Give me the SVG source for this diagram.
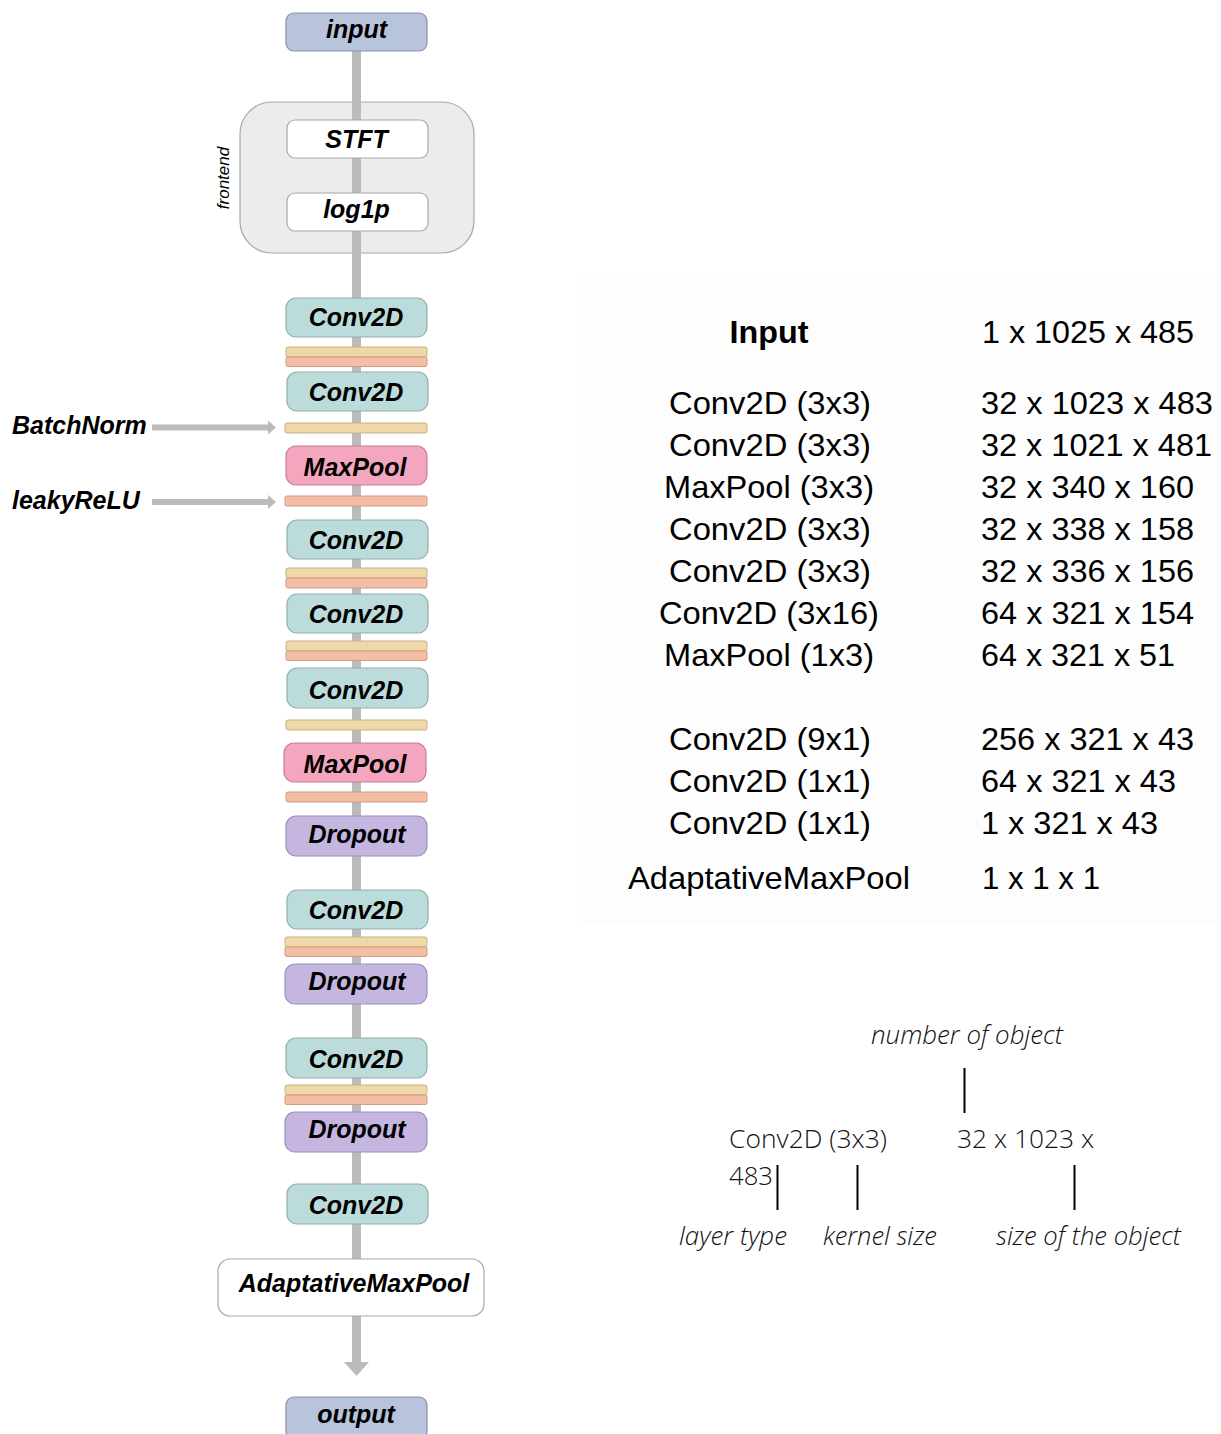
<svg xmlns="http://www.w3.org/2000/svg" width="1221" height="1434" viewBox="0 0 1221 1434">
<style>
.lbl{font-family:"Liberation Sans",Arial,sans-serif;font-weight:bold;font-style:italic;font-size:25px;fill:#000;text-anchor:middle}
.side{font-family:"Liberation Sans",Arial,sans-serif;font-weight:bold;font-style:italic;font-size:25px;fill:#000}
.io{fill:#b8c3dc;stroke:#8891a8;stroke-width:1.2}
.conv{fill:#bcdcdb;stroke:#91aeac;stroke-width:1.2}
.pool{fill:#f4a6be;stroke:#c57e95;stroke-width:1.2}
.drop{fill:#c5b6e0;stroke:#9c8fbc;stroke-width:1.2}
.bn{fill:#eed8a7;stroke:#c8b184;stroke-width:1}
.relu{fill:#f3bea4;stroke:#cf9a82;stroke-width:1}
.white{fill:#fff;stroke:#a8a8a8;stroke-width:1.2}
.tab{font-family:"Liberation Sans",Arial,sans-serif;font-size:30.5px;fill:#000}
.leg{font-family:"Open Sans","Liberation Sans",sans-serif;font-weight:300;font-size:25px;fill:#111}
.legi{font-family:"Open Sans","Liberation Sans",sans-serif;font-weight:300;font-style:italic;font-size:25px;fill:#111}
</style>
<rect width="1221" height="1434" fill="#fff"/>
<rect x="577" y="273" width="644" height="652" fill="#fdfdfd"/>

<g id="frontend">
<rect x="240" y="102" width="234" height="151" rx="32" fill="#ececec" stroke="#a8a8a8" stroke-width="1.2"/>
<text transform="translate(229,178) rotate(-90)" font-family="'Liberation Sans',Arial,sans-serif" font-style="italic" font-size="17" text-anchor="middle">frontend</text>
</g>

<g id="connectors">
<line x1="356.5" y1="51" x2="356.5" y2="1363" stroke="#bbbbbb" stroke-width="9"/>
<polygon points="344,1362 369,1362 356.5,1376" fill="#bbbbbb"/>
<line x1="152" y1="427.5" x2="269" y2="427.5" stroke="#bbbbbb" stroke-width="6"/>
<polygon points="268,420.5 276,427.5 268,434.5" fill="#bbbbbb"/>
<line x1="152" y1="502" x2="269" y2="502" stroke="#bbbbbb" stroke-width="6"/>
<polygon points="268,495 276,502 268,509" fill="#bbbbbb"/>
</g>

<g id="input"><rect class="io" x="286" y="13" width="141" height="38" rx="8"/><text class="lbl" x="356.5" y="38">input</text></g>
<g id="stft"><rect class="white" x="287" y="120" width="141" height="38" rx="8"/><text class="lbl" x="356.5" y="148">STFT</text></g>
<g id="log1p"><rect class="white" x="287" y="193" width="141" height="38" rx="8"/><text class="lbl" x="356.5" y="218">log1p</text></g>

<g id="conv1"><rect class="conv" x="286" y="298" width="141" height="39" rx="10"/><text class="lbl" x="356" y="326">Conv2D</text></g>
<g id="bnrelu1"><rect class="bn" x="286" y="347" width="141" height="10" rx="2"/><rect class="relu" x="286" y="357" width="141" height="9.5" rx="2"/></g>
<g id="conv2"><rect class="conv" x="287" y="372" width="141" height="39" rx="10"/><text class="lbl" x="356" y="401">Conv2D</text></g>
<g id="bn2"><rect class="bn" x="285" y="423" width="142" height="10" rx="2"/></g>
<g id="maxpool1"><rect class="pool" x="286" y="446" width="141" height="39" rx="10"/><text class="lbl" x="355" y="476">MaxPool</text></g>
<g id="relu2"><rect class="relu" x="285" y="496" width="142" height="10" rx="2"/></g>
<g id="conv3"><rect class="conv" x="287" y="520" width="141" height="39" rx="10"/><text class="lbl" x="356" y="549">Conv2D</text></g>
<g id="bnrelu3"><rect class="bn" x="286" y="568" width="141" height="10" rx="2"/><rect class="relu" x="286" y="578" width="141" height="10" rx="2"/></g>
<g id="conv4"><rect class="conv" x="287" y="594" width="141" height="39" rx="10"/><text class="lbl" x="356" y="623">Conv2D</text></g>
<g id="bnrelu4"><rect class="bn" x="286" y="641" width="141" height="10" rx="2"/><rect class="relu" x="286" y="651" width="141" height="9.5" rx="2"/></g>
<g id="conv5"><rect class="conv" x="287" y="668" width="141" height="40" rx="10"/><text class="lbl" x="356" y="699">Conv2D</text></g>
<g id="bn5"><rect class="bn" x="286" y="720" width="141" height="10" rx="2"/></g>
<g id="maxpool2"><rect class="pool" x="284" y="743" width="142" height="39" rx="10"/><text class="lbl" x="355" y="773">MaxPool</text></g>
<g id="relu5"><rect class="relu" x="286" y="792" width="141" height="10" rx="2"/></g>
<g id="dropout1"><rect class="drop" x="286" y="816" width="141" height="40" rx="10"/><text class="lbl" x="357" y="843">Dropout</text></g>
<g id="conv6"><rect class="conv" x="287" y="890" width="141" height="39" rx="10"/><text class="lbl" x="356" y="919">Conv2D</text></g>
<g id="bnrelu6"><rect class="bn" x="285" y="937" width="142" height="10" rx="2"/><rect class="relu" x="285" y="947" width="142" height="9.5" rx="2"/></g>
<g id="dropout2"><rect class="drop" x="285" y="964" width="142" height="40" rx="10"/><text class="lbl" x="357" y="990">Dropout</text></g>
<g id="conv7"><rect class="conv" x="286" y="1038" width="141" height="40" rx="10"/><text class="lbl" x="356" y="1068">Conv2D</text></g>
<g id="bnrelu7"><rect class="bn" x="285" y="1085" width="142" height="10" rx="2"/><rect class="relu" x="285" y="1095" width="142" height="9.5" rx="2"/></g>
<g id="dropout3"><rect class="drop" x="285" y="1112" width="142" height="40" rx="10"/><text class="lbl" x="357" y="1138">Dropout</text></g>
<g id="conv8"><rect class="conv" x="287" y="1184" width="141" height="40" rx="10"/><text class="lbl" x="356" y="1214">Conv2D</text></g>
<g id="adaptivemaxpool"><rect class="white" x="218" y="1259" width="266" height="57" rx="12"/><text class="lbl" x="354" y="1292">AdaptativeMaxPool</text></g>
<g id="output"><rect class="io" x="286" y="1397" width="141" height="42" rx="8"/><text class="lbl" x="356" y="1423">output</text></g>

<g id="sidelabels">
<text class="side" x="12" y="434">BatchNorm</text>
<text class="side" x="12" y="509">leakyReLU</text>
</g>

<g id="table">
<text class="tab" x="769" y="343" text-anchor="middle" font-weight="bold" textLength="79" lengthAdjust="spacingAndGlyphs">Input</text>
<text class="tab" x="982" y="343" textLength="212" lengthAdjust="spacingAndGlyphs">1 x 1025 x 485</text>
<text class="tab" x="770" y="414" text-anchor="middle" textLength="202" lengthAdjust="spacingAndGlyphs">Conv2D (3x3)</text>
<text class="tab" x="981" y="414" textLength="232" lengthAdjust="spacingAndGlyphs">32 x 1023 x 483</text>
<text class="tab" x="770" y="456" text-anchor="middle" textLength="202" lengthAdjust="spacingAndGlyphs">Conv2D (3x3)</text>
<text class="tab" x="981" y="456" textLength="231" lengthAdjust="spacingAndGlyphs">32 x 1021 x 481</text>
<text class="tab" x="769" y="498" text-anchor="middle" textLength="210" lengthAdjust="spacingAndGlyphs">MaxPool (3x3)</text>
<text class="tab" x="981" y="498" textLength="213" lengthAdjust="spacingAndGlyphs">32 x 340 x 160</text>
<text class="tab" x="770" y="540" text-anchor="middle" textLength="202" lengthAdjust="spacingAndGlyphs">Conv2D (3x3)</text>
<text class="tab" x="981" y="540" textLength="213" lengthAdjust="spacingAndGlyphs">32 x 338 x 158</text>
<text class="tab" x="770" y="582" text-anchor="middle" textLength="202" lengthAdjust="spacingAndGlyphs">Conv2D (3x3)</text>
<text class="tab" x="981" y="582" textLength="213" lengthAdjust="spacingAndGlyphs">32 x 336 x 156</text>
<text class="tab" x="769" y="624" text-anchor="middle" textLength="220" lengthAdjust="spacingAndGlyphs">Conv2D (3x16)</text>
<text class="tab" x="981" y="624" textLength="213" lengthAdjust="spacingAndGlyphs">64 x 321 x 154</text>
<text class="tab" x="769" y="666" text-anchor="middle" textLength="210" lengthAdjust="spacingAndGlyphs">MaxPool (1x3)</text>
<text class="tab" x="981" y="666" textLength="194" lengthAdjust="spacingAndGlyphs">64 x 321 x 51</text>
<text class="tab" x="770" y="750" text-anchor="middle" textLength="202" lengthAdjust="spacingAndGlyphs">Conv2D (9x1)</text>
<text class="tab" x="981" y="750" textLength="213" lengthAdjust="spacingAndGlyphs">256 x 321 x 43</text>
<text class="tab" x="770" y="792" text-anchor="middle" textLength="202" lengthAdjust="spacingAndGlyphs">Conv2D (1x1)</text>
<text class="tab" x="981" y="792" textLength="195" lengthAdjust="spacingAndGlyphs">64 x 321 x 43</text>
<text class="tab" x="770" y="834" text-anchor="middle" textLength="202" lengthAdjust="spacingAndGlyphs">Conv2D (1x1)</text>
<text class="tab" x="981" y="834" textLength="177" lengthAdjust="spacingAndGlyphs">1 x 321 x 43</text>
<text class="tab" x="769" y="889" text-anchor="middle" textLength="282" lengthAdjust="spacingAndGlyphs">AdaptativeMaxPool</text>
<text class="tab" x="982" y="889" textLength="118" lengthAdjust="spacingAndGlyphs">1 x 1 x 1</text>
</g>

<g id="legend">
<text class="legi" x="871" y="1044" textLength="192" lengthAdjust="spacingAndGlyphs">number of object</text>
<text class="leg" x="729" y="1148" textLength="158" lengthAdjust="spacingAndGlyphs">Conv2D (3x3)</text>
<text class="leg" x="957" y="1148" textLength="137" lengthAdjust="spacingAndGlyphs">32 x 1023 x</text>
<text class="leg" x="729" y="1185" textLength="44" lengthAdjust="spacingAndGlyphs">483</text>
<text class="legi" x="679" y="1245" textLength="108" lengthAdjust="spacingAndGlyphs">layer type</text>
<text class="legi" x="823" y="1245" textLength="114" lengthAdjust="spacingAndGlyphs">kernel size</text>
<text class="legi" x="996" y="1245" textLength="185" lengthAdjust="spacingAndGlyphs">size of the object</text>
<g stroke="#000" stroke-width="2">
<line x1="964.5" y1="1068" x2="964.5" y2="1113"/>
<line x1="777.5" y1="1165" x2="777.5" y2="1210"/>
<line x1="857.5" y1="1165" x2="857.5" y2="1210"/>
<line x1="1074.5" y1="1165" x2="1074.5" y2="1210"/>
</g>
</g>
</svg>
